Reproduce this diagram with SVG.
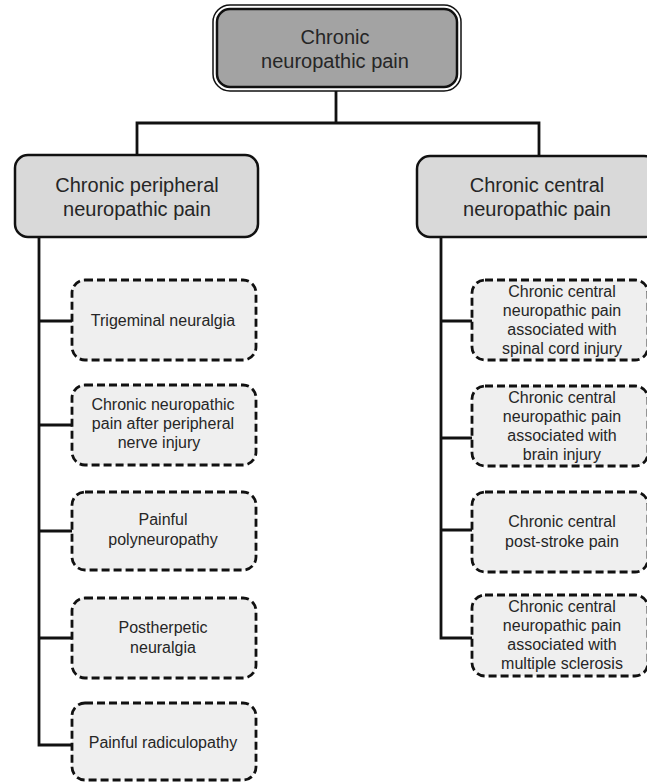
<svg xmlns="http://www.w3.org/2000/svg" width="647" height="782" viewBox="0 0 647 782">
<style>
.t{font-family:"Liberation Sans",Arial,sans-serif;fill:#262626;text-anchor:middle}
.big{font-size:20px}
.sm{font-size:16px}
.lvl2{fill:#d9d9d9;stroke:#111;stroke-width:2.5}
.leaf{fill:#efefef;stroke:#111;stroke-width:2.8;stroke-dasharray:8 4}
.con{fill:none;stroke:#111;stroke-width:2.8}
</style>
<rect width="647" height="782" fill="#ffffff"/>
<g id="connectors">
<path class="con" d="M336,90 V123 M137,155 V123 H539 V156"/>
<path class="con" d="M39,237 V745 H72 M39,321 H72 M39,425 H72 M39,531 H72 M39,638 H72"/>
<path class="con" d="M441,237 V638 H472 M441,321 H472 M441,438 H472 M441,530 H472"/>
</g>
<g id="root">
<rect x="213" y="5" width="248" height="86" rx="17" fill="#ffffff" stroke="#111" stroke-width="1.5"/>
<rect x="217" y="9" width="240" height="78" rx="13" fill="#a3a3a3" stroke="#111" stroke-width="2.5"/>
<text class="t big" x="335" y="44">Chronic</text>
<text class="t big" x="335" y="68">neuropathic pain</text>
</g>
<g id="peripheral">
<rect class="lvl2" x="15" y="155" width="243" height="82" rx="13"/>
<text class="t big" x="137" y="192">Chronic peripheral</text>
<text class="t big" x="137" y="216">neuropathic pain</text>
</g>
<g id="central">
<rect class="lvl2" x="417" y="156" width="240" height="81" rx="13"/>
<text class="t big" x="537" y="192">Chronic central</text>
<text class="t big" x="537" y="216">neuropathic pain</text>
</g>
<g id="trigeminal">
<rect class="leaf" x="72" y="280" width="184" height="80" rx="13"/>
<text class="t sm" x="163" y="326">Trigeminal neuralgia</text>
</g>
<g id="peripheral-nerve">
<rect class="leaf" x="72" y="385" width="184" height="80" rx="13"/>
<text class="t sm" x="163" y="410">Chronic neuropathic</text>
<text class="t sm" x="163" y="429">pain after peripheral</text>
<text class="t sm" x="159" y="448">nerve injury</text>
</g>
<g id="polyneuropathy">
<rect class="leaf" x="72" y="492" width="184" height="78" rx="13"/>
<text class="t sm" x="163" y="525">Painful</text>
<text class="t sm" x="163" y="545">polyneuropathy</text>
</g>
<g id="postherpetic">
<rect class="leaf" x="72" y="598" width="184" height="80" rx="13"/>
<text class="t sm" x="163" y="633">Postherpetic</text>
<text class="t sm" x="163" y="653">neuralgia</text>
</g>
<g id="radiculopathy">
<rect class="leaf" x="72" y="703" width="184" height="77" rx="13"/>
<text class="t sm" x="163" y="748">Painful radiculopathy</text>
</g>
<g id="spinal">
<rect class="leaf" x="472" y="280" width="176" height="80" rx="13"/>
<text class="t sm" x="562" y="297">Chronic central</text>
<text class="t sm" x="562" y="316">neuropathic pain</text>
<text class="t sm" x="562" y="335">associated with</text>
<text class="t sm" x="562" y="354">spinal cord injury</text>
</g>
<g id="brain">
<rect class="leaf" x="472" y="386" width="176" height="80" rx="13"/>
<text class="t sm" x="562" y="403">Chronic central</text>
<text class="t sm" x="562" y="422">neuropathic pain</text>
<text class="t sm" x="562" y="441">associated with</text>
<text class="t sm" x="562" y="460">brain injury</text>
</g>
<g id="post-stroke">
<rect class="leaf" x="472" y="492" width="176" height="80" rx="13"/>
<text class="t sm" x="562" y="527">Chronic central</text>
<text class="t sm" x="562" y="547">post-stroke pain</text>
</g>
<g id="ms">
<rect class="leaf" x="472" y="595" width="176" height="81" rx="13"/>
<text class="t sm" x="562" y="612">Chronic central</text>
<text class="t sm" x="562" y="631">neuropathic pain</text>
<text class="t sm" x="562" y="650">associated with</text>
<text class="t sm" x="562" y="669">multiple sclerosis</text>
</g>
</svg>
